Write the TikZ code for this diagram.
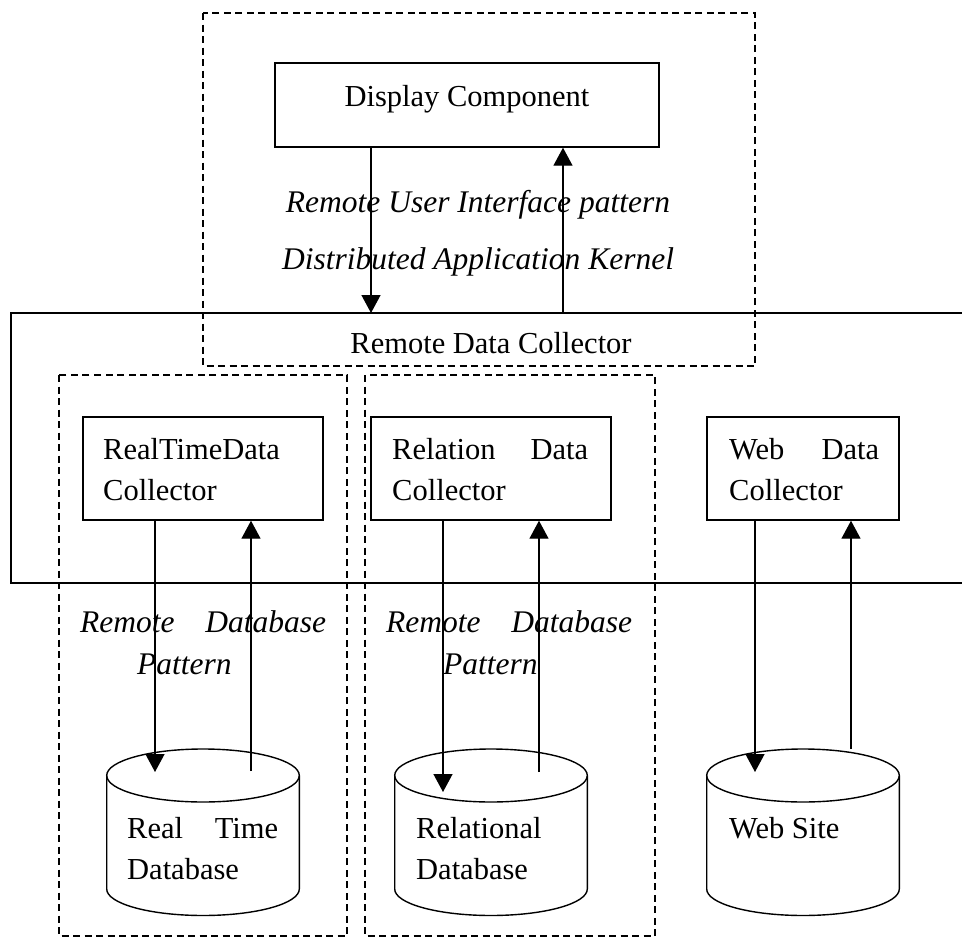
\documentclass[tikz,border=0pt]{standalone}
\usepackage{fontspec}
\setmainfont{Liberation Serif}
\usetikzlibrary{arrows.meta}
\begin{document}
\begin{tikzpicture}[x=1pt,y=1pt,
  box/.style={draw, line width=1.4pt, rectangle, inner sep=0pt},
  grp/.style={draw, line width=1.4pt, dash pattern=on 7pt off 4.5pt},
  flow/.style={line width=1.4pt, -{Triangle[length=18pt,width=19pt]}},
  edge/.style={line width=1.4pt},
  txt/.style={inner sep=0pt, font=\fontsize{30.5}{41}\selectfont},
  itxt/.style={inner sep=0pt, font=\fontsize{31.5}{42}\selectfont\itshape},
  para/.style={txt, anchor=base west, align=justify,
    execute at begin node={\tolerance=10000\hbadness=10000\hyphenpenalty=10000}},
  ilab/.style={itxt, anchor=base west, align=left, text width=246pt},
]
\fill[white] (0,0) rectangle (962,-940);
\useasboundingbox (0,0) rectangle (962,-940);

% dashed groups
\draw[grp] (203,-13) rectangle (755,-366);
\draw[grp] (59,-375) rectangle (347,-936);
\draw[grp] (365,-375) rectangle (655,-936);

% Display component
\node[box, minimum width=384pt, minimum height=84pt] (disp) at (467,-105) {};
\node[txt, anchor=base] (disptext) at (467,-106) {Display Component};

% Remote data collector (open to the right)
\coordinate (rdctop) at (11,-313);
\coordinate (rdcbot) at (11,-583);
\draw[edge] (962,-313) -- (rdctop) -- (rdcbot) -- (962,-583);
\node[txt, anchor=base] (rdctext) at (491,-353) {Remote Data Collector};

% pattern labels (top)
\node[itxt, anchor=base] (rui) at (478,-212) {Remote User Interface pattern};
\node[itxt, anchor=base] (dak) at (478,-269) {Distributed Application Kernel};

\draw[flow] ([xshift=-96pt]disp.south) -- ([xshift=-96pt]disp.south |- rdctop);
\draw[flow] ([xshift=96pt]disp.south |- rdctop) -- ([xshift=96pt]disp.south);

% collectors
\node[box, minimum width=240pt, minimum height=103pt] (rt) at (203,-468.5) {};
\node[box, minimum width=240pt, minimum height=103pt] (rel) at (491,-468.5) {};
\node[box, minimum width=192pt, minimum height=103pt] (web) at (803,-468.5) {};
\node[para, text width=200pt] (rttext) at (103,-459) {RealTimeData Collector};
\node[para, text width=196pt] (reltext) at (392,-459) {Relation Data Collector};
\node[para, text width=150pt] (webtext) at (729,-459) {Web Data Collector};

% databases
\coordinate (db1) at (203,-775.5);
\coordinate (db2) at (491,-775.5);
\coordinate (db3) at (803,-775.5);
\foreach \cx/\l/\r in {203/106.7/299.3, 491/394.7/587.3, 803/706.7/899.3}{
  \draw[edge] (\l,-775.5) -- (\l,-889) arc[start angle=180, end angle=360, x radius=96.3pt, y radius=26.5pt] -- (\r,-775.5);
  \draw[edge] (\cx,-775.5) ellipse[x radius=96.3pt, y radius=26.5pt];
}
\node[para, text width=151pt] (db1text) at (127,-838) {Real Time Database};
\node[para, text width=151pt] (db2text) at (416,-838) {Relational Database};
\node[para, text width=151pt] (db3text) at (729,-838) {Web Site};

% labels in groups
\node[ilab] (rdp1) at (80,-632) {Remote\hfill Database\\\hspace*{57pt}Pattern};
\node[ilab] (rdp2) at (386,-632) {Remote\hfill Database\\\hspace*{57pt}Pattern};

% arrows collectors <-> databases
\draw[flow] ([xshift=-48pt]rt.south) -- ([xshift=-48pt,yshift=3.5pt]rt.south |- db1);
\draw[flow] ([xshift=48pt,yshift=4.5pt]rt.south |- db1) -- ([xshift=48pt]rt.south);
\draw[flow] ([xshift=-48pt]rel.south) -- ([xshift=-48pt,yshift=-16.5pt]rel.south |- db2);
\draw[flow] ([xshift=48pt,yshift=3.5pt]rel.south |- db2) -- ([xshift=48pt]rel.south);
\draw[flow] ([xshift=-48pt]web.south) -- ([xshift=-48pt,yshift=3.5pt]web.south |- db3);
\draw[flow] ([xshift=48pt,yshift=26.5pt]web.south |- db3) -- ([xshift=48pt]web.south);
\end{tikzpicture}
\end{document}
